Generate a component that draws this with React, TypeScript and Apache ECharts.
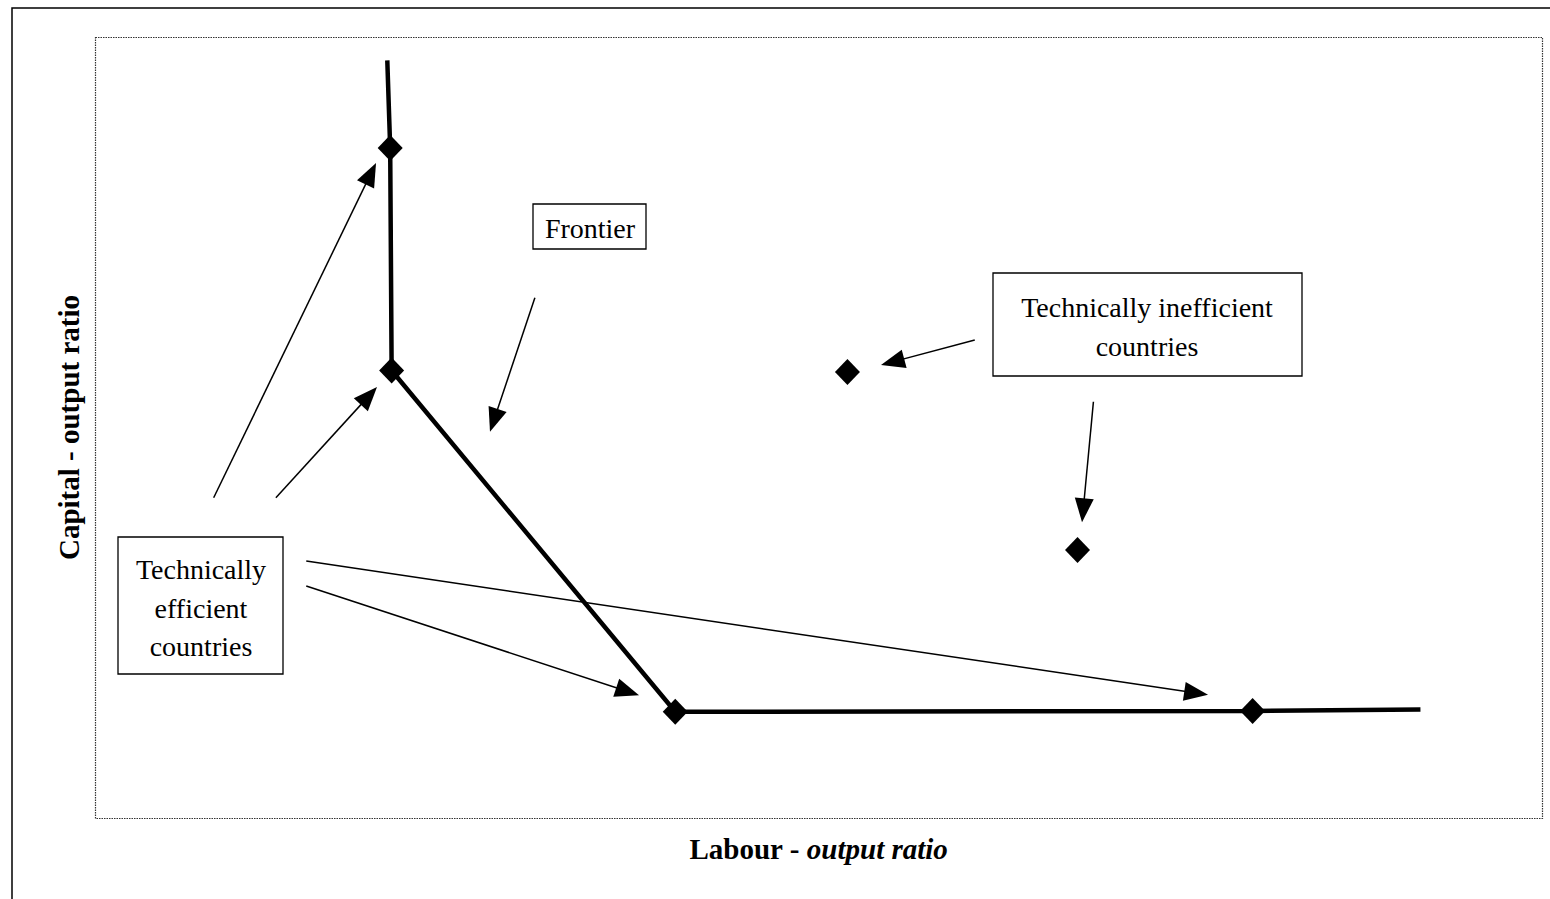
import React, { useEffect, useRef } from "react";
import * as echarts from "echarts";

// Frontier (isoquant) path, in data units of the hidden 0..100 axes
const frontierLine: number[][] = [
  [20.2, 97.0],
  [20.4, 85.8],
  [20.5, 57.3],
  [40.1, 13.6],
  [80.0, 13.7],
  [91.6, 13.9],
];
// Technically efficient countries (on the frontier)
const efficientPts: number[][] = [
  [20.4, 85.8],
  [20.5, 57.3],
  [40.1, 13.6],
  [80.0, 13.7],
];
// Technically inefficient countries
const inefficientPts: number[][] = [
  [52.0, 57.1],
  [67.9, 34.3],
];
// Annotation arrows: [tail, head]
const arrows: number[][][] = [
  [[8.2, 41.0], [19.06, 82.5]],
  [[12.5, 41.0], [18.93, 54.05]],
  [[30.4, 66.6], [27.56, 50.9]],
  [[60.8, 61.2], [55.12, 58.4]],
  [[69.0, 53.3], [68.29, 39.4]],
  [[14.6, 29.7], [36.81, 16.2]],
  [[14.6, 32.9], [76.1, 16.0]],
];

const yTitle = "Capital - output ratio";
const frontierLabel = "Frontier";
const inefficientLabel = "Technically inefficient\ncountries";
const efficientLabel = "Technically\nefficient\ncountries";

const SERIF = "'Liberation Serif', 'Times New Roman', serif";

export default function App() {
  const ref = useRef<HTMLDivElement>(null);
  useEffect(() => {
    if (!ref.current) return;
    const chart = echarts.init(ref.current, null, { renderer: "svg" });
    const boxFont = `28px ${SERIF}`;
    chart.setOption({
      animation: false,
      backgroundColor: "#fff",
      grid: { left: 95, top: 37, width: 1447, height: 781 },
      xAxis: {
        type: "value",
        min: 0,
        max: 100,
        axisLine: { show: false },
        axisTick: { show: false },
        axisLabel: { show: false },
        splitLine: { show: false },
        name: "{a|Labour - }{b|output ratio}",
        nameLocation: "middle",
        nameGap: 16,
        nameTextStyle: {
          rich: {
            a: { fontFamily: SERIF, fontSize: 29, fontWeight: "bold", color: "#000" },
            b: { fontFamily: SERIF, fontSize: 29, fontWeight: "bold", fontStyle: "italic", color: "#000" },
          },
        },
      },
      yAxis: {
        type: "value",
        min: 0,
        max: 100,
        axisLine: { show: false },
        axisTick: { show: false },
        axisLabel: { show: false },
        splitLine: { show: false },
        name: yTitle,
        nameLocation: "middle",
        nameGap: 12,
        nameTextStyle: { fontFamily: SERIF, fontSize: 29, fontWeight: "bold", color: "#000" },
      },
      graphic: [
        {
          type: "rect",
          shape: { x: 12, y: 8, width: 1600, height: 1000 },
          style: { fill: "none", stroke: "#000", lineWidth: 1.5 },
          silent: true,
          z: -10,
        },
        {
          type: "rect",
          shape: { x: 95.5, y: 37.5, width: 1447, height: 781 },
          style: { fill: "none", stroke: "#333", lineWidth: 1.2, lineDash: [1.5, 1] },
          silent: true,
          z: -5,
        },
        {
          type: "group",
          z: 100,
          children: [
            { type: "rect", shape: { x: 533, y: 204, width: 113, height: 45 }, style: { fill: "#fff", stroke: "#000", lineWidth: 1.3 } },
            { type: "text", style: { text: frontierLabel, x: 590, y: 228, align: "center", verticalAlign: "middle", font: boxFont, fill: "#000" } },
            { type: "rect", shape: { x: 993, y: 273, width: 309, height: 103 }, style: { fill: "#fff", stroke: "#000", lineWidth: 1.3 } },
            { type: "text", style: { text: inefficientLabel, x: 1147, y: 327, align: "center", verticalAlign: "middle", font: boxFont, lineHeight: 39, fill: "#000" } },
            { type: "rect", shape: { x: 118, y: 537, width: 165, height: 137 }, style: { fill: "#fff", stroke: "#000", lineWidth: 1.3 } },
            { type: "text", style: { text: efficientLabel, x: 201, y: 608, align: "center", verticalAlign: "middle", font: boxFont, lineHeight: 38.5, fill: "#000" } },
          ],
        },
      ],
      series: [
        {
          type: "line",
          data: frontierLine,
          symbol: "none",
          lineStyle: { color: "#000", width: 4.5 },
          silent: true,
          z: 3,
          markLine: {
            silent: true,
            symbol: ["none", "triangle"],
            symbolSize: [19, 24],
            label: { show: false },
            lineStyle: { color: "#000", width: 1.5, type: "solid" },
            emphasis: { disabled: true },
            data: arrows.map(([a, b]) => [{ coord: a }, { coord: b }]),
          },
        },
        {
          type: "scatter",
          data: efficientPts,
          symbol: "diamond",
          symbolSize: [25, 26],
          itemStyle: { color: "#000", opacity: 1 },
          silent: true,
          z: 4,
        },
        {
          type: "scatter",
          data: inefficientPts,
          symbol: "diamond",
          symbolSize: [25, 26],
          itemStyle: { color: "#000", opacity: 1 },
          silent: true,
          z: 4,
        },
      ],
    });
    return () => chart.dispose();
  }, []);
  return (
    <div
      ref={ref}
      style={{ position: "absolute", left: 0, top: 0, width: 1550, height: 899 }}
    />
  );
}
